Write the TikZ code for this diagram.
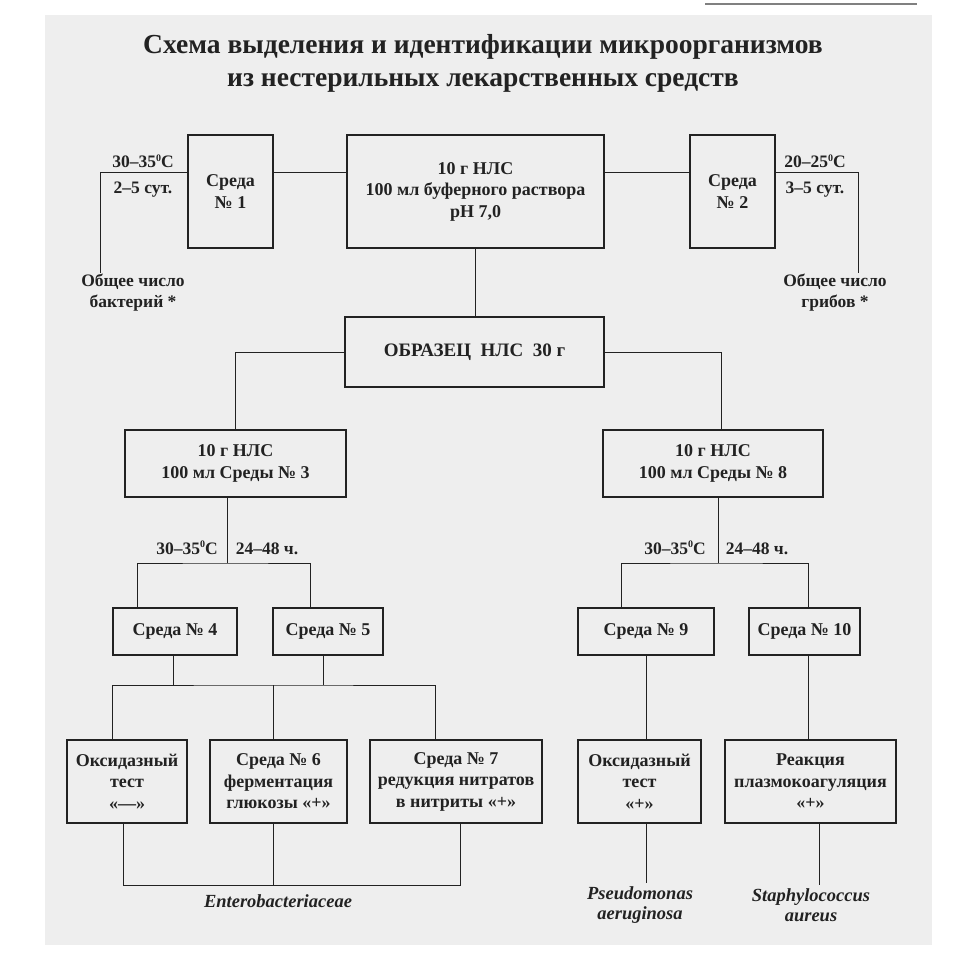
\documentclass[tikz,border=0pt]{standalone}
\usepackage{fontspec}
\setmainfont{Liberation Serif}
\usepackage{tikz}
\usetikzlibrary{positioning, calc}
\definecolor{ink}{RGB}{34,34,34}
\definecolor{paper}{RGB}{238,238,238}
\newcommand{\degz}{\raisebox{0.75ex}{\fontsize{10}{10}\selectfont 0}}

\begin{document}
\begin{tikzpicture}[x=1pt, y=-1pt,
  every node/.style={font=\fontsize{18}{21.5}\selectfont\bfseries, text=ink, align=center},
  box/.style={draw=ink, line width=1.6pt, inner sep=2pt},
  lbl/.style={font=\fontsize{17.5}{21}\selectfont\bfseries},
  spec/.style={font=\fontsize{18.5}{20}\selectfont\bfseries\itshape},
  link/.style={draw=ink, line width=1pt}]
  \useasboundingbox (0,0) rectangle (958,965);
  \fill[white] (0,0) rectangle (958,965);
  \fill[paper] (45,15) rectangle (932,945);
  \draw[gray, line width=1.5pt] (705,4) -- (917,4);

  \node[font=\fontsize{27.5}{33}\selectfont\bfseries] (title) at (483,63) {Схема выделения и идентификации микроорганизмов\\из нестерильных лекарственных средств};

  \node[box, minimum width=85pt, minimum height=113pt] (m1) at (230.5,191.5) {Среда\\№ 1};
  \node[box, minimum width=257pt, minimum height=113pt] (buf) at (475.5,191.5) {10 г НЛС\\100 мл буферного раствора\\pH 7,0};
  \node[box, minimum width=85pt, minimum height=113pt] (m2) at (732.5,191.5) {Среда\\№ 2};

  \node[lbl, anchor=base] (t1) at (143,168) {30–35\degz С};
  \node[lbl, anchor=base] (d1) at (143,194) {2–5 сут.};
  \node[lbl, anchor=base] (t2) at (815,168) {20–25\degz С};
  \node[lbl, anchor=base] (d2) at (815,194) {3–5 сут.};
  \node[lbl] (bact) at (133,293) {Общее число\\бактерий *};
  \node[lbl] (fung) at (835,293) {Общее число\\грибов *};

  \coordinate (hl) at (0,173);
  \coordinate (b1) at (100,273);
  \coordinate (b2) at (858,273);
  \draw[link] (m1.east |- hl) -- (buf.west |- hl);
  \draw[link] (buf.east |- hl) -- (m2.west |- hl);
  \draw[link] (m1.west |- hl) -| (b1);
  \draw[link] (m2.east |- hl) -| (b2);

  \node[box, minimum width=259pt, minimum height=70pt, font=\fontsize{19}{22}\selectfont\bfseries] (sample) at (474.5,352) {ОБРАЗЕЦ\enspace НЛС\enspace 30 г};
  \draw[link] (buf.south) -- (buf.south |- sample.north);

  \node[box, minimum width=221pt, minimum height=67pt] (m3) at (235.5,463.5) {10 г НЛС\\100 мл Среды № 3};
  \node[box, minimum width=220pt, minimum height=67pt] (m8) at (713,463.5) {10 г НЛС\\100 мл Среды № 8};
  \draw[link] (sample.west) -| (m3.north);
  \draw[link] (sample.east) -| ([xshift=8pt]m8.north);

  \node[box, minimum width=124pt, minimum height=47pt] (m4) at (175,631.5) {Среда № 4};
  \node[box, minimum width=110pt, minimum height=47pt] (m5) at (328,631.5) {Среда № 5};
  \node[box, minimum width=136pt, minimum height=47pt] (m9) at (646,631.5) {Среда № 9};
  \node[box, minimum width=111pt, minimum height=47pt] (m10) at (804.5,631.5) {Среда № 10};

  \node[lbl, anchor=base] (t3) at (187,554) {30–35\degz С};
  \node[lbl, anchor=base] (d3) at (267,554) {24–48 ч.};
  \node[lbl, anchor=base] (t8) at (675,554) {30–35\degz С};
  \node[lbl, anchor=base] (d8) at (757,554) {24–48 ч.};

  \coordinate (j3) at (227,563);
  \coordinate (j8) at (718,563);
  \draw[link] (m3.south -| j3) -- (j3);
  \draw[link] ([xshift=-38pt]m4.north) |- (j3) -| ([xshift=-18pt]m5.north);
  \draw[link] (m8.south -| j8) -- (j8);
  \draw[link] ([xshift=-25pt]m9.north) |- (j8) -| ([xshift=3.5pt]m10.north);

  \node[box, minimum width=120pt, minimum height=83pt] (ox1) at (127,781.5) {Оксидазный\\тест\\«—»};
  \node[box, minimum width=137pt, minimum height=83pt] (m6) at (278.5,781.5) {Среда № 6\\ферментация\\глюкозы «+»};
  \node[box, minimum width=172pt, minimum height=83pt] (m7) at (456,781.5) {Среда № 7\\редукция нитратов\\в нитриты «+»};
  \node[box, minimum width=123pt, minimum height=83pt] (ox2) at (639.5,781.5) {Оксидазный\\тест\\«+»};
  \node[box, minimum width=171pt, minimum height=83pt] (coag) at (810.5,781.5) {Реакция\\плазмокоагуляция\\«+»};

  \coordinate (j45) at (273,685);
  \draw[link] ([xshift=-2pt]m4.south) -- ([xshift=-2pt]m4.south |- j45);
  \draw[link] ([xshift=-5pt]m5.south) -- ([xshift=-5pt]m5.south |- j45);
  \draw[link] ([xshift=-15pt]ox1.north) |- (j45) -| ([xshift=-21pt]m7.north);
  \draw[link] (j45) -- (m6.north -| j45);
  \draw[link] (m9.south) -- (m9.south |- ox2.north);
  \draw[link] ([xshift=3.5pt]m10.south) -- ([xshift=3.5pt]m10.south |- coag.north);

  \node[spec] (entero) at (278,901) {Enterobacteriaceae};
  \node[spec] (pseud) at (640,905) {Pseudomonas\\aeruginosa};
  \node[spec] (staph) at (811,905) {Staphylococcus\\aureus};

  \coordinate (je) at (273,885);
  \draw[link] ([xshift=-4pt]ox1.south) |- (je) -| ([xshift=4pt]m7.south);
  \draw[link] (m6.south -| je) -- (je);
  \draw[link] ([xshift=6.5pt]ox2.south) -- ([xshift=6.5pt]ox2.south |- pseud.north);
  \draw[link] ([xshift=8.5pt]coag.south) -- ([xshift=8.5pt]coag.south |- staph.north);
\end{tikzpicture}
\end{document}
